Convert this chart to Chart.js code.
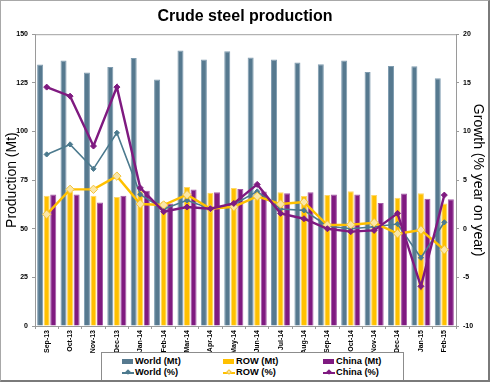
<!DOCTYPE html>
<html>
<head>
<meta charset="utf-8">
<script src="https://cdn.jsdelivr.net/npm/chart.js@4/dist/chart.umd.min.js"></script>
<style>
  html, body { margin:0; padding:0; background:#fff; }
  #wrap { position:relative; width:490px; height:382px; overflow:hidden; }
  #c { position:absolute; left:0; top:0; }
  #frame { position:absolute; left:0; top:0; width:487px; height:379px; border-left:1px solid #a8a8a8; border-top:1px solid #a8a8a8; border-right:2px solid #7a7a7a; border-bottom:2px solid #7a7a7a; pointer-events:none; }
  #legend { position:absolute; left:101px; top:352px; width:301px; height:27px; border:1px solid #8c8c8c; background:#fff;
            font-family:"Liberation Sans", Arial, sans-serif; font-weight:bold; font-size:9.3px; color:#000; }
  .item { position:absolute; height:11px; line-height:11px; white-space:nowrap; }
  .sw { display:inline-block; vertical-align:middle; position:relative; width:12px; height:11px; margin-right:1px; }
  .box { position:absolute; left:0; top:3px; width:11px; height:5px; }
  .ln { position:absolute; left:0; top:5px; width:12px; height:1.5px; }
  .mk { position:absolute; left:4px; top:3px; width:4px; height:4px; transform:rotate(45deg); }
</style>
</head>
<body>
<div id="wrap">
  <canvas id="c" width="490" height="382"></canvas>
  <div id="legend"></div>
  <div id="frame"></div>
</div>
<script>
const categories = ['Sep-13','Oct-13','Nov-13','Dec-13','Jan-14','Feb-14','Mar-14','Apr-14','May-14','Jun-14','Jul-14','Aug-14','Sep-14','Oct-14','Nov-14','Dec-14','Jan-15','Feb-15'];
const worldMt  = [134.4,136.5,130.3,133.2,137.8,126.7,141.6,137.0,141.2,138.0,137.0,135.4,134.6,136.5,130.6,133.7,133.5,127.4];
const rowMt    = [66.9,69.0,66.9,66.3,69.5,63.9,71.4,68.5,70.9,68.5,68.8,66.8,67.4,69.3,67.4,65.9,68.3,63.0];
const chinaMt  = [67.6,67.6,63.5,66.9,69.5,63.0,70.2,68.8,70.4,69.2,68.3,68.8,67.6,67.6,63.2,68.1,65.4,65.1];
const worldPct = [7.64,8.67,6.16,9.86,3.53,2.02,2.92,2.06,2.5,3.84,2.02,1.89,0.28,0.0,0.2,0.48,-2.98,0.66];
const rowPct   = [1.48,4.05,4.05,5.41,2.54,2.44,3.5,2.06,2.26,3.33,2.54,2.74,0.38,0.41,0.62,-0.51,-0.13,-2.16];
const chinaPct = [14.56,13.63,8.5,14.56,4.2,1.75,2.23,2.06,2.6,4.56,1.58,1.03,0.0,-0.3,-0.17,1.58,-5.92,3.46];
const seriesNames = ['World (Mt)','ROW (Mt)','China (Mt)','World (%)','ROW (%)','China (%)'];

const FONT = '"Liberation Sans", Arial, sans-serif';
const C_WORLD = '#56798F', C_ROW = '#FFC000', C_CHINA = '#7F1A80';
const C_WORLD_L = '#4C7A8E';

const plotBorder = {
  id: 'plotBorder',
  afterDatasetsDraw(chart) {
    const a = chart.chartArea, ctx = chart.ctx;
    ctx.save();
    ctx.strokeStyle = '#a0a0a0';
    ctx.lineWidth = 1;
    ctx.beginPath();
    ctx.moveTo(a.left, a.top + 0.5);
    ctx.lineTo(a.right, a.top + 0.5);
    ctx.stroke();
    ctx.restore();
  }
};

new Chart(document.getElementById('c'), {
  type: 'bar',
  data: {
    labels: categories,
    datasets: [
      { type:'line', label: seriesNames[3], data: worldPct, yAxisID:'y1', order:2,
        borderColor:C_WORLD_L, borderWidth:1.6, pointStyle:'rectRot', pointRadius:2.6,
        pointBackgroundColor:C_WORLD_L, pointBorderColor:C_WORLD_L, pointBorderWidth:1, tension:0 },
      { type:'line', label: seriesNames[4], data: rowPct, yAxisID:'y1', order:1,
        borderColor:C_ROW, borderWidth:2.4, pointStyle:'rectRot', pointRadius:4.2,
        pointBackgroundColor:'#FBE7A8', pointBorderColor:'#F2C33A', pointBorderWidth:1, tension:0 },
      { type:'line', label: seriesNames[5], data: chinaPct, yAxisID:'y1', order:0,
        borderColor:C_CHINA, borderWidth:2.4, pointStyle:'rectRot', pointRadius:3,
        pointBackgroundColor:C_CHINA, pointBorderColor:C_CHINA, pointBorderWidth:1, tension:0 },
      { label: seriesNames[0], data: worldMt, yAxisID:'y', order:5,
        backgroundColor:C_WORLD, borderColor:'#7F9CB0', borderWidth:1,
        categoryPercentage:0.84, barPercentage:0.92 },
      { label: seriesNames[1], data: rowMt, yAxisID:'y', order:5,
        backgroundColor:C_ROW, borderColor:'#FFD865', borderWidth:1,
        categoryPercentage:0.84, barPercentage:0.92 },
      { label: seriesNames[2], data: chinaMt, yAxisID:'y', order:5,
        backgroundColor:C_CHINA, borderColor:'#A45AA6', borderWidth:1,
        categoryPercentage:0.84, barPercentage:0.92 }
    ]
  },
  options: {
    responsive:false,
    animation:false,
    devicePixelRatio:1,
    layout:{ padding:{ left:0, right:0, top:0, bottom:0 } },
    plugins:{
      legend:{ display:false },
      tooltip:{ enabled:false },
      title:{ display:true, text:'Crude steel production', color:'#000',
        font:{ family:FONT, size:16, weight:'bold' }, padding:{ top:7, bottom:8 } }
    },
    scales:{
      x:{
        offset:true,
        grid:{ display:true, drawOnChartArea:false, drawTicks:true, tickLength:3, color:'#9a9a9a', offset:true },
        border:{ display:true, color:'#9a9a9a' },
        ticks:{ color:'#000', font:{ family:FONT, size:7, weight:'bold' }, minRotation:90, maxRotation:90, autoSkip:false, padding:1 },
        afterFit(s){ s.height = 56; }
      },
      y:{
        position:'left', min:0, max:150,
        ticks:{ stepSize:25, color:'#000', font:{ family:FONT, size:7, weight:'bold' }, padding:4 },
        grid:{ display:true, drawOnChartArea:false, drawTicks:true, tickLength:3, color:'#9a9a9a' },
        border:{ display:true, color:'#9a9a9a' },
        title:{ display:true, text:'Production (Mt)', color:'#000', font:{ family:FONT, size:14 }, padding:{ top:4, bottom:2 } },
        afterFit(s){ s.width = 35; }
      },
      y1:{
        position:'right', min:-10, max:20,
        ticks:{ stepSize:5, color:'#000', font:{ family:FONT, size:7, weight:'bold' }, padding:4 },
        grid:{ display:true, drawOnChartArea:false, drawTicks:true, tickLength:3, color:'#9a9a9a' },
        border:{ display:true, color:'#9a9a9a' },
        title:{ display:true, text:'Growth (% year on year)', color:'#000', font:{ family:FONT, size:14 }, padding:{ top:4, bottom:2 } },
        afterFit(s){ s.width = 34; }
      }
    }
  },
  plugins:[plotBorder]
});

// HTML legend (3 columns x 2 rows)
const legend = document.getElementById('legend');
const legendItems = [
  { name: seriesNames[0], kind:'bar',  color:C_WORLD, col:0, row:0 },
  { name: seriesNames[1], kind:'bar',  color:C_ROW,   col:1, row:0 },
  { name: seriesNames[2], kind:'bar',  color:C_CHINA, col:2, row:0 },
  { name: seriesNames[3], kind:'line', color:C_WORLD_L, mk:C_WORLD_L, col:0, row:1 },
  { name: seriesNames[4], kind:'line', color:C_ROW, mk:'#FBE7A8', mkb:'#F2C33A', col:1, row:1 },
  { name: seriesNames[5], kind:'line', color:C_CHINA, mk:C_CHINA, col:2, row:1 }
];
const colX = [20, 121, 221];
const rowY = [3, 14];
legendItems.forEach(it => {
  const d = document.createElement('div');
  d.className = 'item';
  d.style.left = colX[it.col] + 'px';
  d.style.top = rowY[it.row] + 'px';
  const sw = document.createElement('span');
  sw.className = 'sw';
  if (it.kind === 'bar') {
    const b = document.createElement('span'); b.className = 'box'; b.style.background = it.color; sw.appendChild(b);
  } else {
    const l = document.createElement('span'); l.className = 'ln'; l.style.background = it.color; sw.appendChild(l);
    const m = document.createElement('span'); m.className = 'mk'; m.style.background = it.mk;
    if (it.mkb) { m.style.boxSizing = 'border-box'; m.style.border = '1px solid ' + it.mkb; }
    sw.appendChild(m);
  }
  d.appendChild(sw);
  d.appendChild(document.createTextNode(it.name));
  legend.appendChild(d);
});
</script>
</body>
</html>
